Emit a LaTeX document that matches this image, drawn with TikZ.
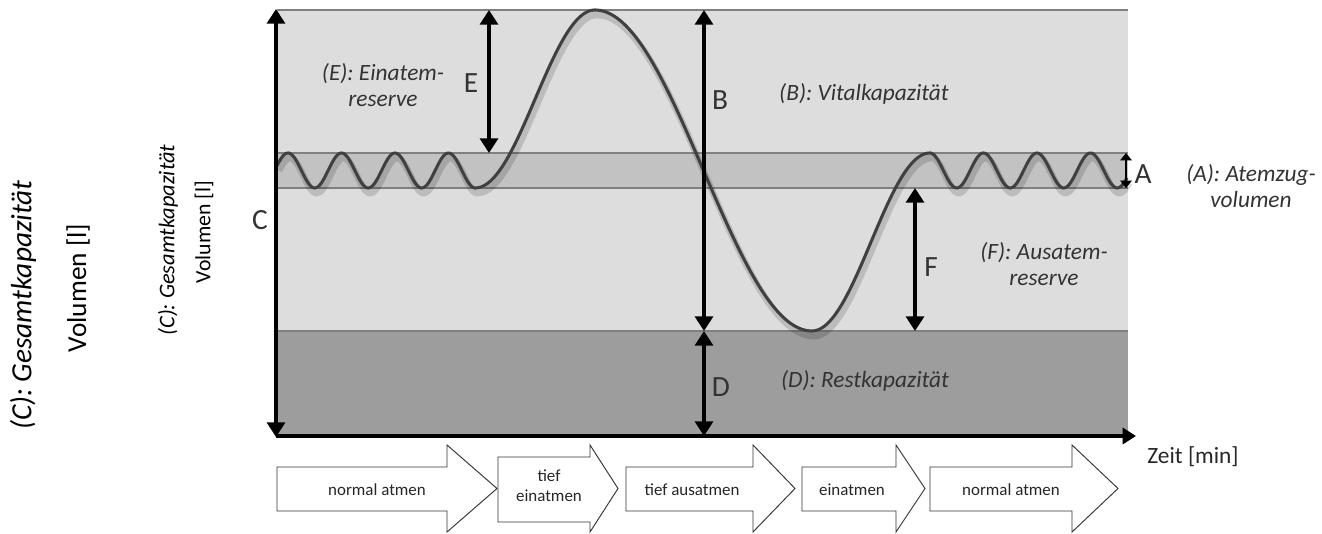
\documentclass[tikz,border=0pt]{standalone}
\usepackage{fontspec}
\setmainfont{Carlito}
\usetikzlibrary{arrows.meta}
\definecolor{lightband}{gray}{0.865}
\definecolor{tidal}{gray}{0.76}
\definecolor{resid}{gray}{0.615}
\definecolor{edgec}{gray}{0.5}
\definecolor{curvec}{gray}{0.25}
\definecolor{labelc}{gray}{0.2}
\begin{document}
\begin{tikzpicture}[x=0.75pt,y=-0.75pt,
  dim/.style={line width=2.5pt, {Triangle[length=11pt,width=13.5pt]}-{Triangle[length=11pt,width=13.5pt]}},
  smalldim/.style={line width=1.6pt, {Triangle[length=5.5pt,width=8.5pt]}-{Triangle[length=5.5pt,width=8.5pt]}},
  axisline/.style={line width=2.5pt, -{Triangle[length=10pt,width=12pt]}},
  bandline/.style={draw=edgec, line width=0.8pt},
  lbl/.style={font=\fontsize{17.5}{19.5}\selectfont\itshape, text=labelc, align=center, inner sep=0pt},
  letter/.style={font=\fontsize{22}{26}\selectfont, text=labelc, inner sep=0pt},
  blockarrow/.style={draw=black!80, fill=white, line width=0.7pt, line join=miter},
  boxtext/.style={font=\fontsize{12.7}{15}\selectfont, text=black!85, align=center, inner sep=0pt},
  curve/.style={draw=curvec, line width=2.3pt, line join=round},
  curveshadow/.style={draw=black, opacity=0.15, line width=5pt, line join=round},
]
\useasboundingbox (0,0) rectangle (1322,534);
% regions
\fill[lightband] (277,10) rectangle (1128,331);
\fill[tidal] (277,153) rectangle (1128,188);
\fill[resid] (277,331) rectangle (1128,436);
\draw[bandline] (277,10) -- (1128,10);
\draw[bandline] (277,153) -- (1128,153);
\draw[bandline] (277,188) -- (1128,188);
\draw[bandline] (277,331) -- (1128,331);
% curve shadow
\begin{scope}[shift={(2,5)}]
\draw[curveshadow]
  plot[domain=277:475.25, samples=160] (\x, {170.5 - 17.5*cos((\x-288)*6.72897)})
  -- plot[domain=475.25:595, samples=80] (\x, {99 - 89*cos((\x-595)*1.50313)})
  -- plot[domain=595:812, samples=120] (\x, {170.5 - 160.5*cos((\x-595)*0.829493)})
  -- plot[domain=812:930, samples=80] (\x, {242 + 89*cos((\x-812)*1.525424)})
  -- plot[domain=930:1127, samples=160] (\x, {170.5 - 17.5*cos((\x-930)*6.72897)});
\end{scope}
% curve
\draw[curve]
  plot[domain=277:475.25, samples=160] (\x, {170.5 - 17.5*cos((\x-288)*6.72897)})
  -- plot[domain=475.25:595, samples=80] (\x, {99 - 89*cos((\x-595)*1.50313)})
  -- plot[domain=595:812, samples=120] (\x, {170.5 - 160.5*cos((\x-595)*0.829493)})
  -- plot[domain=812:930, samples=80] (\x, {242 + 89*cos((\x-812)*1.525424)})
  -- plot[domain=930:1127, samples=160] (\x, {170.5 - 17.5*cos((\x-930)*6.72897)});
% coordinates
\coordinate (ctop) at (276,9);
\coordinate (cbot) at (276,437);
\coordinate (etop) at (489,10);
\coordinate (ebot) at (489,153);
\coordinate (btop) at (704,10);
\coordinate (bbot) at (704,331);
\coordinate (dtop) at (704,331);
\coordinate (dbot) at (704,436);
\coordinate (ftop) at (915,188);
\coordinate (fbot) at (915,331);
\coordinate (atop) at (1126,153);
\coordinate (abot) at (1126,188);
\coordinate (ax0) at (276,436);
\coordinate (ax1) at (1136,436);
% axis
\draw[axisline] (ax0) -- (ax1);
% dimension arrows
\draw[dim] (ctop) -- (cbot);
\draw[dim] (etop) -- (ebot);
\draw[dim] (btop) -- (bbot);
\draw[dim] (dtop) -- (dbot);
\draw[dim] (ftop) -- (fbot);
\draw[smalldim] (atop) -- (abot);
% letters
\node[letter] (lC) at (260,220) {C};
\node[letter] (lE) at (471,83) {E};
\node[letter] (lB) at (720,100) {B};
\node[letter] (lD) at (721,387) {D};
\node[letter] (lF) at (931,267) {F};
\node[letter] (lA) at (1143,174) {A};
% labels
\node[lbl] (tE) at (383,85) {(E): Einatem-\\reserve};
\node[lbl] (tB) at (864,94) {(B): Vitalkapazität};
\node[lbl] (tA) at (1251,186) {(A): Atemzug-\\volumen};
\node[lbl] (tF) at (1044,264) {(F): Ausatem-\\reserve};
\node[lbl] (tD) at (865,381) {(D): Restkapazität};
% rotated axis titles
\node[font=\fontsize{22}{26}\selectfont\itshape, rotate=90, inner sep=0pt] (cbig) at (23,305) {(C): Gesamtkapazität};
\node[font=\fontsize{20.5}{24}\selectfont, rotate=90, inner sep=0pt] (vbig) at (78,288) {Volumen [l]};
\node[font=\fontsize{16.8}{19}\selectfont\itshape, rotate=90, inner sep=0pt] (csmall) at (168,240) {(C): Gesamtkapazität};
\node[font=\fontsize{16.3}{19}\selectfont, rotate=90, inner sep=0pt] (vsmall) at (204,232) {Volumen [l]};
\node[font=\fontsize{17.5}{20}\selectfont, text=black!85, inner sep=0pt] (zeit) at (1193,457) {Zeit [min]};
% block arrows
\draw[blockarrow] (277,467) -- (447,467) -- (447,445) -- (497,488.5) -- (447,532) -- (447,511) -- (277,511) -- cycle;
\draw[blockarrow] (498,457) -- (590,457) -- (590,445) -- (618,488.5) -- (590,532) -- (590,522) -- (498,522) -- cycle;
\draw[blockarrow] (626,467) -- (753,467) -- (753,445) -- (795,488.5) -- (753,532) -- (753,511) -- (626,511) -- cycle;
\draw[blockarrow] (802,467) -- (896,467) -- (896,445) -- (925,488.5) -- (896,532) -- (896,511) -- (802,511) -- cycle;
\draw[blockarrow] (930,467) -- (1072,467) -- (1072,445) -- (1118,488.5) -- (1072,532) -- (1072,511) -- (930,511) -- cycle;
\node[boxtext] (b1) at (377,490) {normal atmen};
\node[boxtext] (b2) at (549,486) {tief\\einatmen};
\node[boxtext] (b3) at (692,490) {tief ausatmen};
\node[boxtext] (b4) at (852,490) {einatmen};
\node[boxtext] (b5) at (1011,490) {normal atmen};
\end{tikzpicture}
\end{document}
